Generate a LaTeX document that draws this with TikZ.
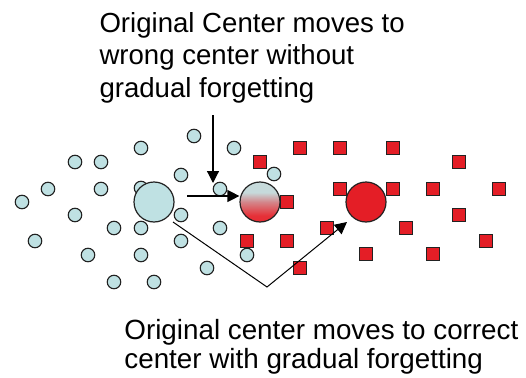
\documentclass[tikz,border=0pt]{standalone}
\usepackage{fontspec}
\setmainfont{Liberation Sans}
\usetikzlibrary{arrows.meta}
\definecolor{dotblue}{HTML}{BFE1E3}
\definecolor{fadeblue}{HTML}{C6DADB}
\definecolor{dotred}{HTML}{E41E26}
\definecolor{edge}{HTML}{222222}
% blue at the top fading into red at the bottom
\pgfdeclareverticalshading{bluetored}{100bp}{
  color(0bp)=(dotred); color(33bp)=(dotred!92!white);
  color(50bp)=(fadeblue!55!dotred); color(62bp)=(fadeblue);
  color(100bp)=(fadeblue)}
\tikzset{
  dot/.style={circle, draw=edge, line width=1.1pt, fill=dotblue, minimum size=13.5pt, inner sep=0pt},
  sq/.style={rectangle, draw=edge, line width=1pt, fill=dotred, minimum size=13.5pt, inner sep=0pt},
  bigc/.style={circle, draw=edge, line width=1.2pt, minimum size=40pt, inner sep=0pt},
  caption/.style={align=left, inner sep=0pt, anchor=north west},
  move/.style={draw=black, line width=1.2pt, -{Triangle[length=12pt,width=12pt]}},
}
\begin{document}
\begin{tikzpicture}[x=1pt, y=-1pt]
\useasboundingbox (0,0) rectangle (526,377);

% data points of the original cluster
\foreach \px/\py [count=\i] in {194/136,141/148,234/148,75/162,101/162,181/175,48/189,
    101/189,141/188,220/189,22/202,75/215,181/215,114/228,141/228,220/228,35/241,
    181/241,88/255,141/255,207/268,114/282,154/282,274/174}
  \node[dot] (b\i) at (\px,\py) {};

% data points of the new cluster
\foreach \px/\py [count=\i] in {300/148,340/148,393/148,260/162,459/162,340/189,393/189,
    433/189,499/189,287/202,459/215,327/228,406/228,247/241,287/241,486/241,366/254,
    433/254,300/268}
  \node[sq] (r\i) at (\px,\py) {};

\node[dot] (b25) at (247,255) {};

% cluster centers
\node[bigc, fill=dotblue] (orig) at (154,202) {};
\node[bigc, shading=bluetored] (wrong) at (260,202) {};
\node[bigc, fill=dotred] (right) at (366,202) {};

% captions
\node[caption, font=\fontsize{27.6}{32.5}\selectfont] (topnote) at (99.3,12.2)
  {Original Center moves to\\wrong center without\\gradual forgetting};
\node[caption, font=\fontsize{27.8}{29}\selectfont] (botnote) at (124.2,319.3)
  {Original center moves to correct\\center with gradual forgetting};

% connectors
\coordinate (vtop) at (213,115);
\coordinate (vend) at (213,183);
\draw[move] (vtop) -- (vend);

\coordinate (hstart) at (187,196);
\draw[move] (hstart) -- (hstart -| wrong.west);

\coordinate (vstart) at (173,222);
\coordinate (vbend) at (267,287);
\coordinate (vhead) at (347,222);
\draw[move, line width=1pt, line join=miter] (vstart) -- (vbend) -- (vhead);
\end{tikzpicture}
\end{document}
